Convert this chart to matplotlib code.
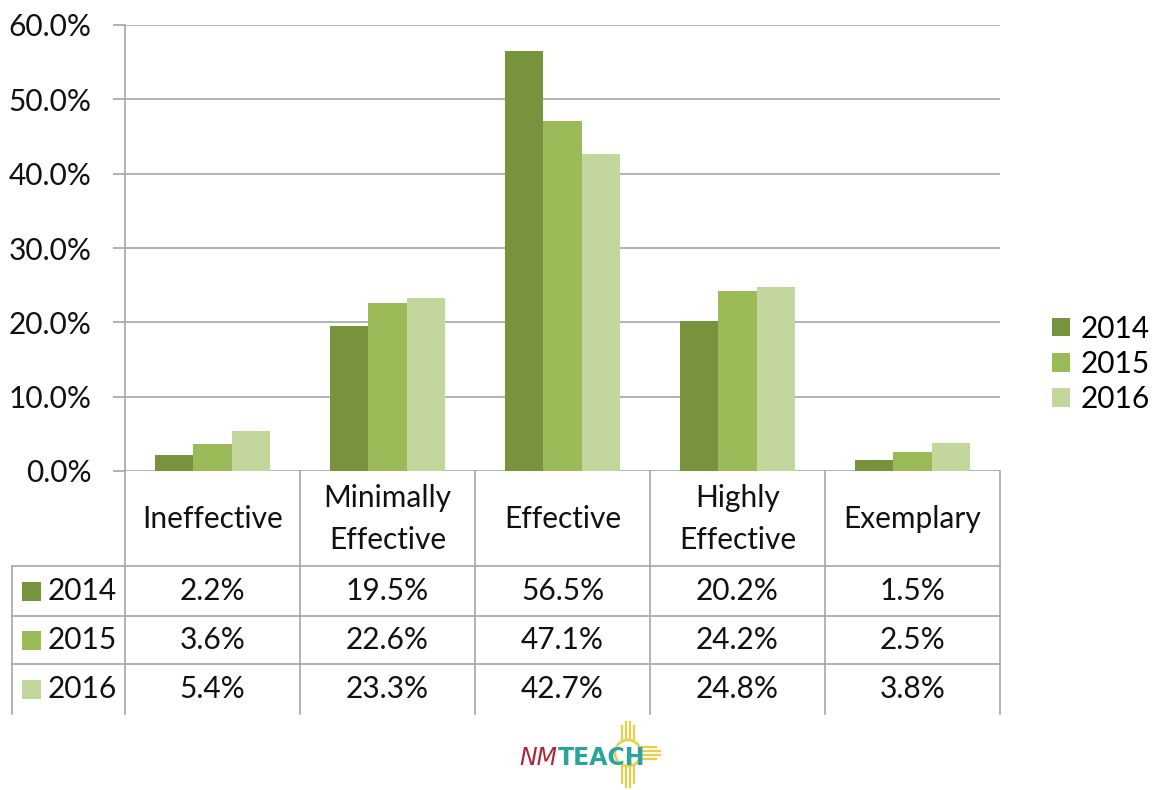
import matplotlib
matplotlib.use("Agg")
import matplotlib.pyplot as plt
from matplotlib.patches import Rectangle, Circle
from matplotlib.lines import Line2D
import numpy as np

categories = ["Ineffective", "Minimally\nEffective", "Effective", "Highly\nEffective", "Exemplary"]
years = ["2014", "2015", "2016"]
v2014 = [2.2, 19.5, 56.5, 20.2, 1.5]
v2015 = [3.6, 22.6, 47.1, 24.2, 2.5]
v2016 = [5.4, 23.3, 42.7, 24.8, 3.8]
series = [v2014, v2015, v2016]
colors = ["#77933C", "#9BBB59", "#C3D69B"]
yticks = [0, 10, 20, 30, 40, 50, 60]

W, H = 1159, 790
FONT = "Lato"
FS = 21.5
GRID = "#a6a6a6"
TXT = "#111111"
plt.rcParams["font.family"] = [FONT, "DejaVu Sans"]

fig = plt.figure(figsize=(W / 100, H / 100), dpi=100)
fig.patch.set_facecolor("white")

# main bar axes in pixel-based placement
L, R, T, B = 125, 1000, 25, 471
ax = fig.add_axes([L / W, 1 - B / H, (R - L) / W, (B - T) / H])
x = np.arange(len(categories))
bw = 0.22
bars = []
for i, (vals, c, yr) in enumerate(zip(series, colors, years)):
    b = ax.bar(x + (i - 1) * bw, vals, width=bw, color=c, label=yr, zorder=3)
    bars.append(b)
ax.set_xlim(-0.5, len(categories) - 0.5)
ax.set_ylim(0, 60)
ax.set_yticks(yticks)
ax.set_yticklabels([f"{t:.1f}%" for t in yticks], fontsize=FS, color=TXT)
ax.set_xticks([])
ax.grid(axis="y", color=GRID, linewidth=1.2, zorder=0)
for s in ["top", "right", "bottom"]:
    ax.spines[s].set_visible(False)
ax.spines["left"].set_color(GRID)
ax.spines["left"].set_linewidth(1.2)
ax.tick_params(axis="y", length=9, width=1.2, color=GRID, pad=15)

# legend
fig.legend(handles=bars, labels=years, loc="center left",
           bbox_to_anchor=(1052 / W, 1 - 364 / H), frameon=False,
           borderaxespad=0, borderpad=0,
           fontsize=FS, handlelength=0.6, handleheight=0.6,
           handletextpad=0.35, labelspacing=0.25)

# overlay for table and logo
ov = fig.add_axes([0, 0, 1, 1])
ov.set_xlim(0, W)
ov.set_ylim(H, 0)
ov.axis("off")
ov.patch.set_alpha(0)

colw = (R - L) / len(categories)
xs_b = [L + k * colw for k in range(len(categories) + 1)]
row_y = [566, 616, 664, 714]
lw = 1.2
for yy in row_y[:-1]:
    ov.add_line(Line2D([12, R], [yy, yy], color=GRID, lw=lw))
for xb in xs_b:
    ov.add_line(Line2D([xb, xb], [B, 714], color=GRID, lw=lw))
ov.add_line(Line2D([12, 12], [566, 714], color=GRID, lw=lw))

# header labels
for k, cat in enumerate(categories):
    ov.text(L + (k + 0.5) * colw, 519, cat, ha="center", va="center",
            fontsize=FS, color=TXT, linespacing=1.6)

# rows
for r, (vals, c, yr) in enumerate(zip(series, colors, years)):
    yc = (row_y[r] + row_y[r + 1]) / 2
    ov.add_patch(Rectangle((22, yc - 9), 19, 19, facecolor=c, edgecolor="none"))
    ov.text(48, yc, yr, ha="left", va="center", fontsize=FS, color=TXT)
    for k, v in enumerate(vals):
        ov.text(L + (k + 0.5) * colw, yc, f"{v:.1f}%", ha="center", va="center",
                fontsize=FS, color=TXT)

# logo: zia symbol
zc = (628, 753)
zia = "#E6CF4A"
for dx in [-6, -2, 2, 6]:
    ov.add_line(Line2D([zc[0] + dx, zc[0] + dx], [zc[1] - 33 + abs(dx), zc[1] - 13], color=zia, lw=1.6))
    ov.add_line(Line2D([zc[0] + dx, zc[0] + dx], [zc[1] + 13, zc[1] + 36 - abs(dx)], color=zia, lw=1.6))
for dy in [-6, -2, 2, 6]:
    ov.add_line(Line2D([zc[0] + 13, zc[0] + 34 - abs(dy)], [zc[1] + dy, zc[1] + dy], color=zia, lw=1.6))
ov.add_patch(Circle(zc, 13, facecolor="none", edgecolor=zia, lw=1.8))
ov.text(519, 765, "NM", ha="left", va="baseline", fontsize=17, fontstyle="italic",
        color="#B0243A", family=["DejaVu Sans"])
ov.text(558, 765, "TEACH", ha="left", va="baseline", fontsize=17,
        color="#2AA59C", family=["DejaVu Sans"], fontweight="bold")

fig.savefig("out.png", dpi=100, facecolor="white")
